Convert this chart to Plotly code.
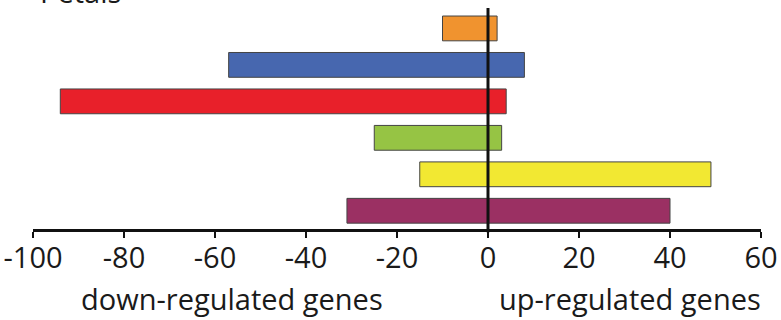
import plotly.graph_objects as go

# Gene groups, listed bottom to top
groups = ["group 1", "group 2", "group 3", "group 4", "group 5", "group 6"]
down_regulated = [-31, -15, -25, -94, -57, -10]
up_regulated = [40, 49, 3, 4, 8, 2]
bar_colors = ["#9B3063", "#F2E832", "#96C444", "#E8202A", "#4767AF", "#F0932F"]
tick_values = [-100, -80, -60, -40, -20, 0, 20, 40, 60]
tick_labels = ["-100", "-80", "-60", "-40", "-20", "0", "20", "40", "60"]
panel_title = "Petals"

W, H = 781, 320
L, R, T, B = 33, 20, 8, 91
plot_h = H - T - B
plot_w = W - L - R


def px_x(p):
    return (p - L) / plot_w


def px_y(p):
    return (H - B - p) / plot_h


ypos = list(range(len(groups)))
outline = dict(color="#444444", width=1)

fig = go.Figure()
fig.add_trace(go.Bar(y=ypos, x=down_regulated, orientation="h",
                     marker=dict(color=bar_colors, line=outline),
                     width=0.68, name="down", showlegend=False))
fig.add_trace(go.Bar(y=ypos, x=up_regulated, orientation="h",
                     marker=dict(color=bar_colors, line=outline),
                     width=0.68, name="up", showlegend=False))

font_family = "Open Sans, Liberation Sans, sans-serif"
fs = 29

fig.update_layout(
    width=W, height=H,
    margin=dict(l=L, r=R, t=T, b=B),
    barmode="relative",
    plot_bgcolor="white", paper_bgcolor="white",
    font=dict(family=font_family, color="#1a1a1a"),
    xaxis=dict(range=[-100, 60], tickvals=tick_values, ticktext=tick_labels,
               automargin=False,
               showgrid=False, zeroline=False,
               showline=True, linecolor="#111", linewidth=3,
               ticks="outside", ticklen=6, tickwidth=2, tickcolor="#111",
               ticklabelstandoff=-5,
               tickfont=dict(size=fs, family=font_family, color="#1a1a1a")),
    yaxis=dict(range=[-0.5, 5.56], showticklabels=False, showgrid=False,
               automargin=False,
               zeroline=False, showline=False, ticks=""),
    shapes=[dict(type="line", xref="x", yref="paper", x0=0, x1=0,
                 y0=-0.015, y1=1, layer="above",
                 line=dict(color="#111", width=3))],
    annotations=[
        dict(text="down-regulated genes", xref="paper", yref="paper",
             x=px_x(232), y=px_y(298), xanchor="center", yanchor="middle",
             showarrow=False, font=dict(size=fs, family=font_family, color="#1a1a1a")),
        dict(text="up-regulated genes", xref="paper", yref="paper",
             x=px_x(630), y=px_y(298), xanchor="center", yanchor="middle",
             showarrow=False, font=dict(size=fs, family=font_family, color="#1a1a1a")),
        dict(text=panel_title, xref="paper", yref="paper",
             x=px_x(38), y=px_y(13), xanchor="left", yanchor="bottom",
             showarrow=False, font=dict(size=fs, family=font_family, color="#1a1a1a")),
    ],
)

fig.write_html("out.html")
